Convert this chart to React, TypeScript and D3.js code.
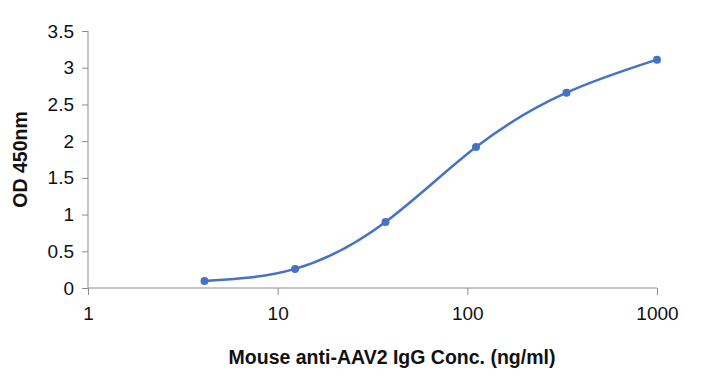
import React, { useEffect, useRef } from 'react';
import * as d3 from 'd3';

// Mouse anti-AAV2 IgG standard curve
const concentrations = [4.115, 12.35, 37.04, 111.1, 333.3, 1000];
const odValues = [0.095, 0.26, 0.9, 1.92, 2.66, 3.11];
const xTicks = [1, 10, 100, 1000];
const yTicks = [0, 0.5, 1, 1.5, 2, 2.5, 3, 3.5];

const App = () => {
  const chartRef = useRef<SVGSVGElement>(null);

  useEffect(() => {
    const width = 715;
    const height = 384;
    const margin = { top: 31, right: 58, bottom: 96, left: 88 };

    const svg = d3.select(chartRef.current);
    svg.selectAll('*').remove();

    const xScale = d3.scaleLog().domain([1, 1000]).range([margin.left, width - margin.right]);
    const yScale = d3.scaleLinear().domain([0, 3.5]).range([height - margin.bottom, margin.top]);

    const font = 'Liberation Sans, Arial, Helvetica, sans-serif';
    const axisColor = '#8c8c8c';

    // y axis
    const yAxis = svg.append('g')
      .attr('transform', `translate(${margin.left},0)`)
      .call(d3.axisLeft(yScale).tickValues(yTicks).tickSize(6).tickPadding(8).tickFormat(d => String(d)));
    yAxis.select('.domain').attr('stroke', axisColor).attr('d', `M0,${yScale(0)}V${yScale(3.5)}`);
    yAxis.selectAll('line').attr('stroke', axisColor);
    yAxis.selectAll('text').attr('font-family', font).attr('font-size', 19).attr('fill', '#111');

    // x axis
    const xAxis = svg.append('g')
      .attr('transform', `translate(0,${yScale(0)})`)
      .call(d3.axisBottom(xScale).tickValues(xTicks).tickSize(7).tickPadding(12).tickFormat(d => String(d)));
    xAxis.select('.domain').attr('stroke', axisColor).attr('d', `M${xScale(1)},0H${xScale(1000)}`);
    xAxis.selectAll('line').attr('stroke', axisColor);
    xAxis.selectAll('text').attr('font-family', font).attr('font-size', 19).attr('fill', '#111');

    const pts = concentrations.map((c, i) => [c, odValues[i]] as [number, number]);

    // fitted curve
    const line = d3.line<[number, number]>()
      .x(d => xScale(d[0]))
      .y(d => yScale(d[1]))
      .curve(d3.curveNatural);

    svg.append('path')
      .datum(pts)
      .attr('fill', 'none')
      .attr('stroke', '#4472c4')
      .attr('stroke-width', 2.5)
      .attr('d', line);

    svg.selectAll('circle.pt')
      .data(pts)
      .enter()
      .append('circle')
      .attr('class', 'pt')
      .attr('cx', d => xScale(d[0]))
      .attr('cy', d => yScale(d[1]))
      .attr('r', 4)
      .attr('fill', '#4472c4');

    // axis titles
    svg.append('text')
      .attr('x', 392)
      .attr('y', 364)
      .attr('text-anchor', 'middle')
      .attr('font-family', font)
      .attr('font-size', 19.5)
      .attr('font-weight', 'bold')
      .attr('fill', '#111')
      .text('Mouse anti-AAV2 IgG Conc. (ng/ml)');

    svg.append('text')
      .attr('transform', `translate(27,${(yScale(0) + yScale(3.5)) / 2}) rotate(-90)`)
      .attr('text-anchor', 'middle')
      .attr('font-family', font)
      .attr('font-size', 19.5)
      .attr('font-weight', 'bold')
      .attr('fill', '#111')
      .text('OD 450nm');
  }, []);

  return (
    <svg
      ref={chartRef}
      width={715}
      height={384}
      style={{ position: 'absolute', left: 0, top: 0, background: '#fff' }}
    />
  );
};

export default App;
